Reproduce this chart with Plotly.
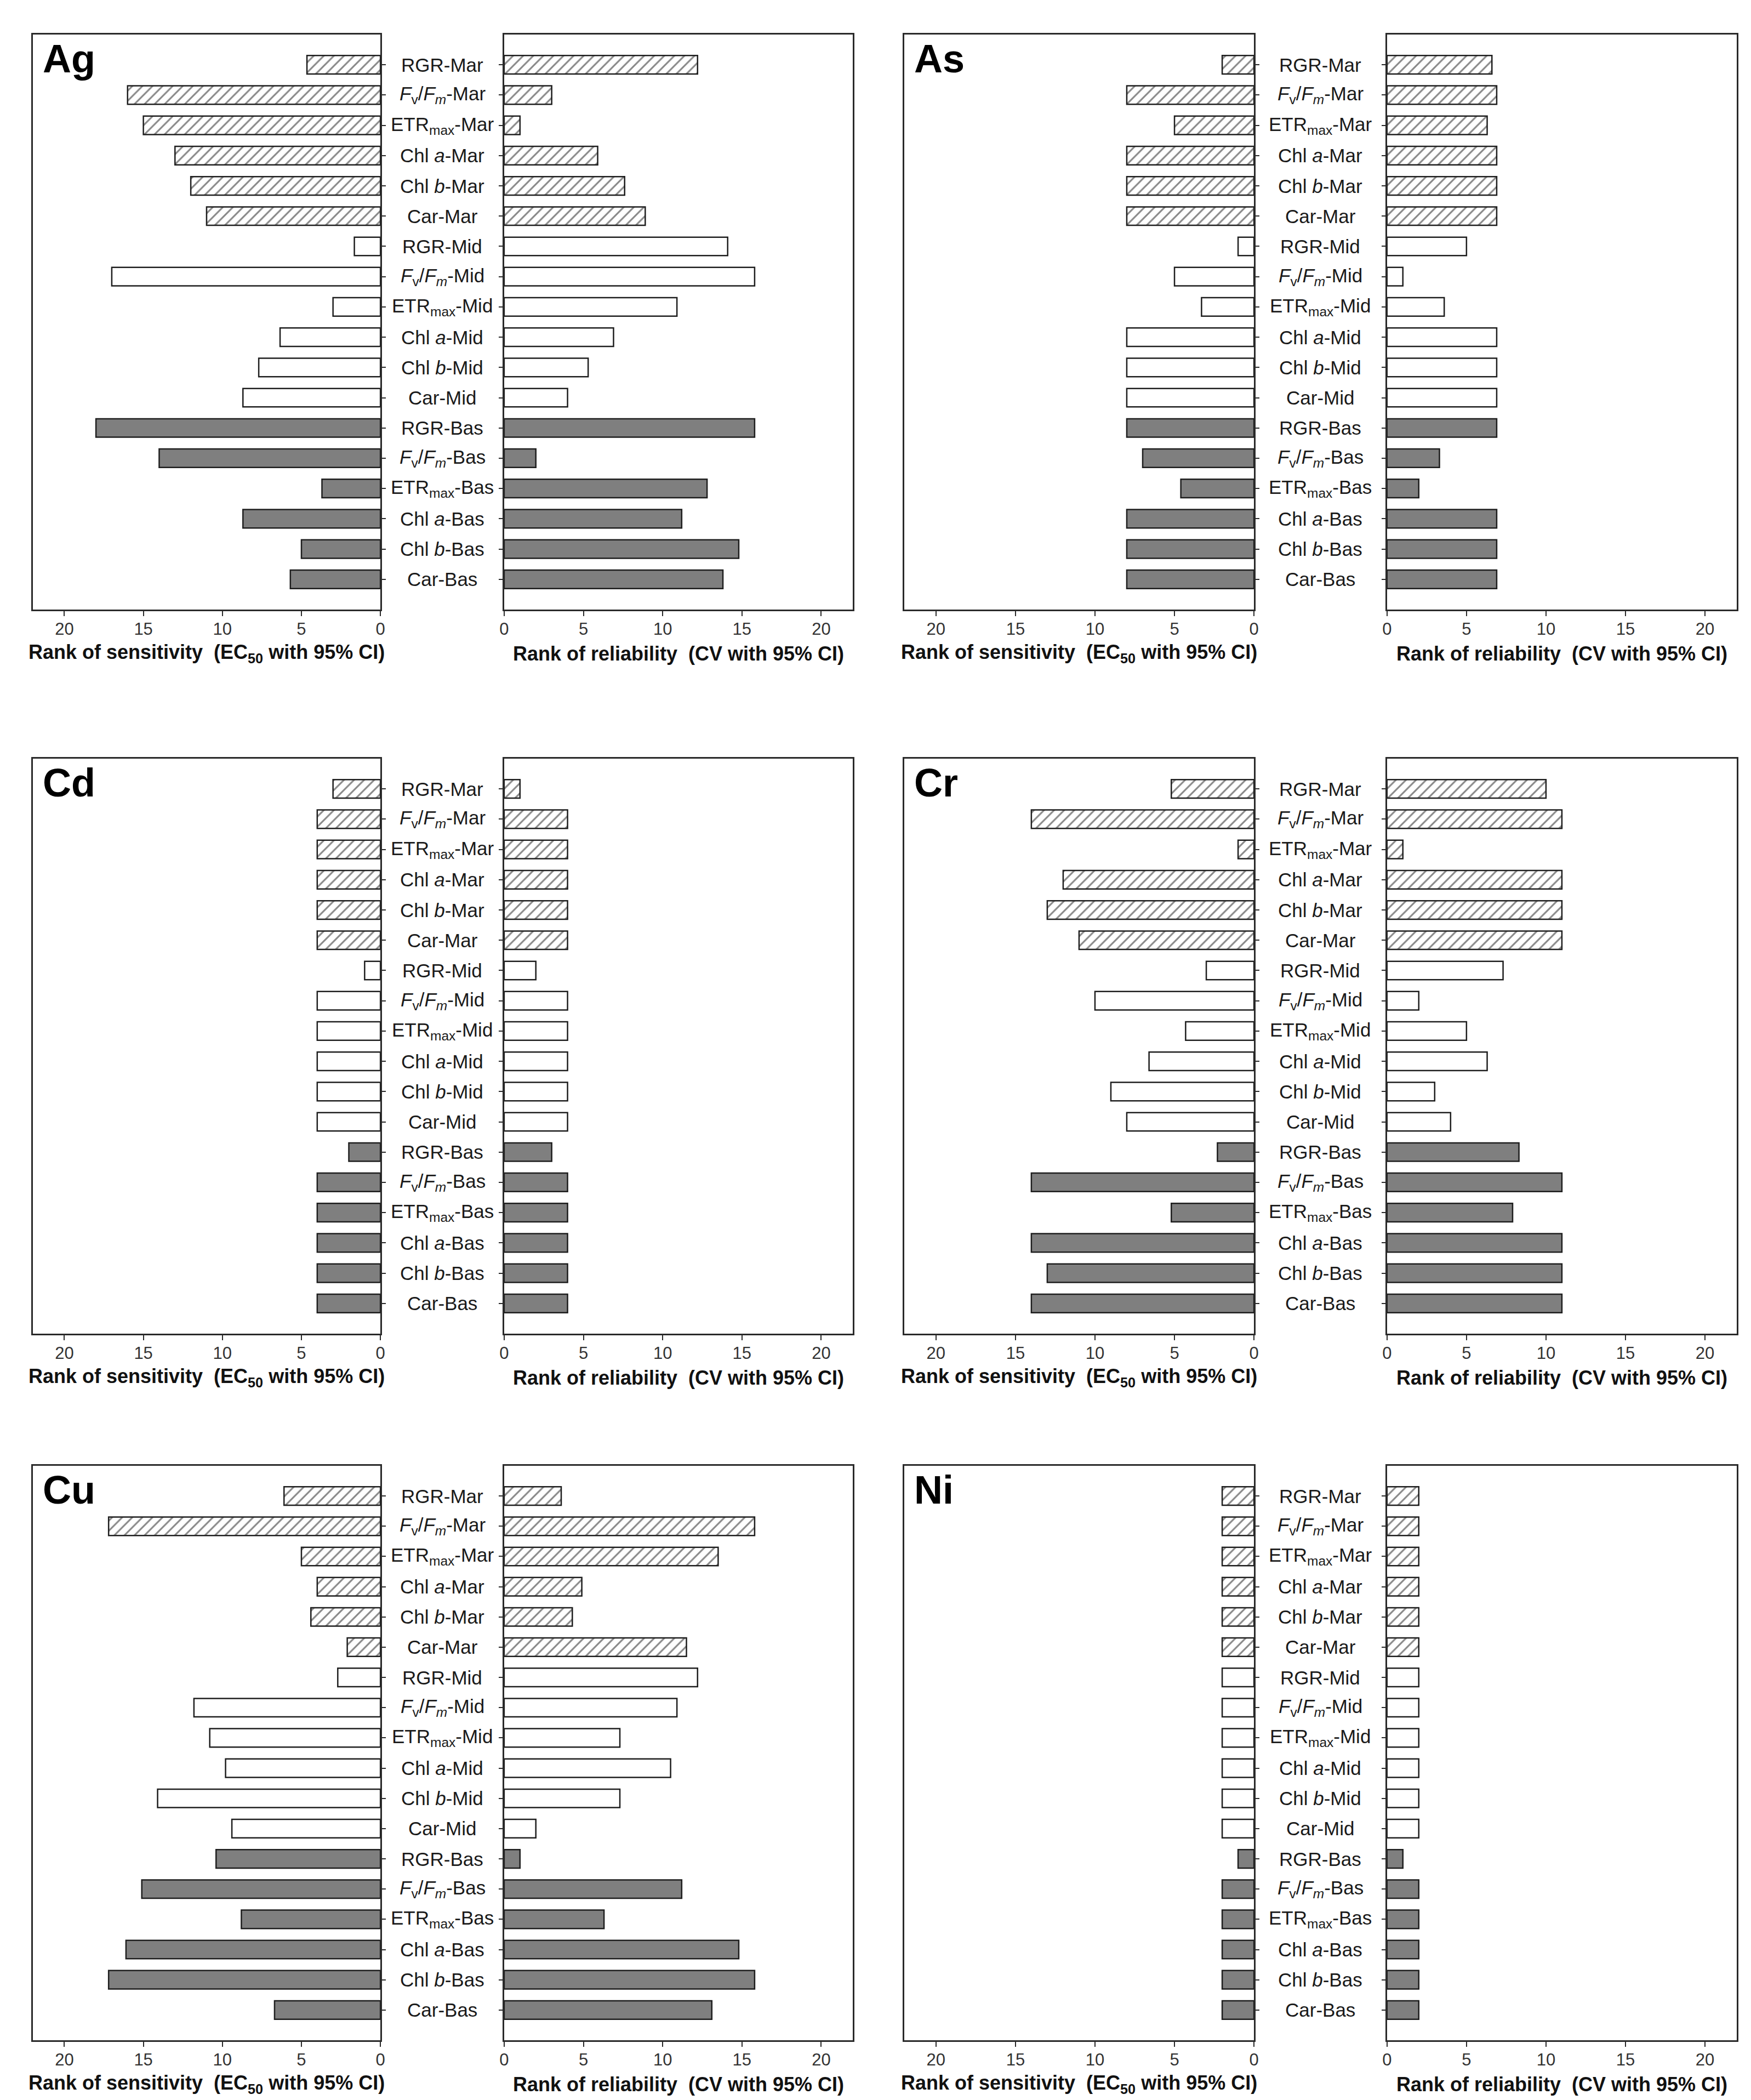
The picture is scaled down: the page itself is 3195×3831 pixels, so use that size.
import plotly.graph_objects as go

W, H = 3195, 3831

categories = ["RGR-Mar", "FvFm-Mar", "ETRmax-Mar", "Chla-Mar", "Chlb-Mar", "Car-Mar",
              "RGR-Mid", "FvFm-Mid", "ETRmax-Mid", "Chla-Mid", "Chlb-Mid", "Car-Mid",
              "RGR-Bas", "FvFm-Bas", "ETRmax-Bas", "Chla-Bas", "Chlb-Bas", "Car-Bas"]
category_labels = ["RGR-Mar", "<i>F</i><sub>v</sub>/<i>F</i><sub><i>m</i></sub>-Mar", "ETR<sub>max</sub>-Mar",
                   "Chl <i>a</i>-Mar", "Chl <i>b</i>-Mar", "Car-Mar",
                   "RGR-Mid", "<i>F</i><sub>v</sub>/<i>F</i><sub><i>m</i></sub>-Mid", "ETR<sub>max</sub>-Mid",
                   "Chl <i>a</i>-Mid", "Chl <i>b</i>-Mid", "Car-Mid",
                   "RGR-Bas", "<i>F</i><sub>v</sub>/<i>F</i><sub><i>m</i></sub>-Bas", "ETR<sub>max</sub>-Bas",
                   "Chl <i>a</i>-Bas", "Chl <i>b</i>-Bas", "Car-Bas"]
metals = ["Ag", "As", "Cd", "Cr", "Cu", "Ni"]

# Rank of sensitivity (EC50 with 95% CI)
Ag_sens = [4.65, 16, 15, 13, 12, 11, 1.65, 17, 3, 6.35, 7.7, 8.7, 18, 14, 3.7, 8.7, 5, 5.7]
As_sens = [2, 8, 5, 8, 8, 8, 1, 5, 3.3, 8, 8, 8, 8, 7, 4.6, 8, 8, 8]
Cd_sens = [3, 4, 4, 4, 4, 4, 1, 4, 4, 4, 4, 4, 2, 4, 4, 4, 4, 4]
Cr_sens = [5.2, 14, 1, 12, 13, 11, 3, 10, 4.3, 6.6, 9, 8, 2.3, 14, 5.2, 14, 13, 14]
Cu_sens = [6.1, 17.2, 5.0, 4.0, 4.4, 2.1, 2.7, 11.8, 10.8, 9.8, 14.1, 9.4, 10.4, 15.1, 8.8, 16.1, 17.2, 6.7]
Ni_sens = [2, 2, 2, 2, 2, 2, 2, 2, 2, 2, 2, 2, 1, 2, 2, 2, 2, 2]

# Rank of reliability (CV with 95% CI)
Ag_rel = [12.2, 3.0, 1.0, 5.9, 7.6, 8.9, 14.1, 15.8, 10.9, 6.9, 5.3, 4.0, 15.8, 2.0, 12.8, 11.2, 14.8, 13.8]
As_rel = [6.6, 6.9, 6.3, 6.9, 6.9, 6.9, 5, 1, 3.6, 6.9, 6.9, 6.9, 6.9, 3.3, 2.0, 6.9, 6.9, 6.9]
Cd_rel = [1, 4, 4, 4, 4, 4, 2, 4, 4, 4, 4, 4, 3, 4, 4, 4, 4, 4]
Cr_rel = [10, 11, 1, 11, 11, 11, 7.3, 2, 5, 6.3, 3, 4, 8.3, 11, 7.9, 11, 11, 11]
Cu_rel = [3.6, 15.8, 13.5, 4.9, 4.3, 11.5, 12.2, 10.9, 7.3, 10.5, 7.3, 2.0, 1.0, 11.2, 6.3, 14.8, 15.8, 13.1]
Ni_rel = [2, 2, 2, 2, 2, 2, 2, 2, 2, 2, 2, 2, 1, 2, 2, 2, 2, 2]

sens = [Ag_sens, As_sens, Cd_sens, Cr_sens, Cu_sens, Ni_sens]
rel = [Ag_rel, As_rel, Cd_rel, Cr_rel, Cu_rel, Ni_rel]

x_ticks = [0, 5, 10, 15, 20]

# layout geometry (pixels)
cols = [(43, 681, 908, 1548), (1642, 2284, 2528, 3170)]
rows = [(55, 1104), (1376, 2425), (2666, 3714)]


def px(x):
    return x / W


def py(y):
    return 1 - y / H


LINE = "#2a2a2a"
tick_font = dict(family="Liberation Sans Narrow, Arial Narrow, Liberation Sans, Arial", size=31, color="#333333")
label_font = dict(family="Liberation Sans, Arial", size=35, color="#1a1a1a")
title_font = dict(family="Liberation Sans, Arial", size=36, color="#111111")

groups = [(0, 6), (6, 12), (12, 18)]
styles = [
    dict(color="white", pattern=dict(shape="/", fgcolor="#111111", bgcolor="white", size=13, solidity=0.24)),
    dict(color="white"),
    dict(color="#7f7f7f"),
]

fig = go.Figure()
annotations = []
layout = {}

for p, metal in enumerate(metals):
    r, c = divmod(p, 2)
    top, bot = rows[r]
    lx0, lx1, rx0, rx1 = cols[c]
    li, ri = 2 * p + 1, 2 * p + 2
    for side, idx, vals in (("L", li, sens[p]), ("R", ri, rel[p])):
        xa = "x" if idx == 1 else f"x{idx}"
        ya = "y" if idx == 1 else f"y{idx}"
        for (a, b), st in zip(groups, styles):
            fig.add_trace(go.Bar(
                x=vals[a:b], y=categories[a:b], orientation="h",
                xaxis=xa, yaxis=ya, width=0.61,
                marker=dict(line=dict(color="#1e1e1e", width=2.5), **st),
                showlegend=False, hoverinfo="x+y",
            ))
        d0, d1 = (lx0, lx1) if side == "L" else (rx0, rx1)
        xname = "xaxis" if idx == 1 else f"xaxis{idx}"
        yname = "yaxis" if idx == 1 else f"yaxis{idx}"
        layout[xname] = dict(
            domain=[px(d0), px(d1)], anchor=ya,
            range=[22, 0] if side == "L" else [0, 22],
            tickvals=x_ticks, ticks="outside", ticklen=9, tickwidth=2, tickcolor=LINE,
            showline=True, linecolor=LINE, linewidth=2.5, mirror=True,
            showgrid=False, zeroline=False, tickfont=tick_font, ticklabelstandoff=-3,
        )
        layout[yname] = dict(
            domain=[py(bot), py(top)], anchor=xa,
            type="category", categoryarray=categories, categoryorder="array",
            range=[18, -1], side="right" if side == "L" else "left",
            ticks="outside", ticklen=7, tickwidth=2, tickcolor=LINE,
            showticklabels=False, showline=True, linecolor=LINE, linewidth=2.5,
            mirror=True, showgrid=False, zeroline=False,
        )
    # category labels between the two boxes
    cx = (lx1 + rx0) / 2
    for cat, lab in zip(categories, category_labels):
        annotations.append(dict(
            x=px(cx), xref="paper", y=cat, yref=f"y{ri}", text=lab,
            showarrow=False, xanchor="center", yanchor="middle", font=label_font,
        ))
    # panel label
    annotations.append(dict(
        x=px(lx0 + 16), y=py(top + 2), xref="paper", yref="paper", text=f"<b>{metal}</b>",
        showarrow=False, xanchor="left", yanchor="top",
        font=dict(family="Liberation Sans, Arial", size=72, color="black"),
    ))
    # axis titles
    annotations.append(dict(
        x=px((lx0 + lx1) / 2), y=py(bot + 80), xref="paper", yref="paper",
        text="<b>Rank of sensitivity  (EC<sub>50</sub> with 95% CI)</b>",
        showarrow=False, xanchor="center", yanchor="middle", font=title_font,
    ))
    annotations.append(dict(
        x=px((rx0 + rx1) / 2), y=py(bot + 80), xref="paper", yref="paper",
        text="<b>Rank of reliability  (CV with 95% CI)</b>",
        showarrow=False, xanchor="center", yanchor="middle", font=title_font,
    ))

fig.update_layout(
    width=W, height=H, margin=dict(l=0, r=0, t=0, b=0),
    paper_bgcolor="white", plot_bgcolor="white",
    barmode="overlay", annotations=annotations, **layout,
)

fig.write_html("out.html")
